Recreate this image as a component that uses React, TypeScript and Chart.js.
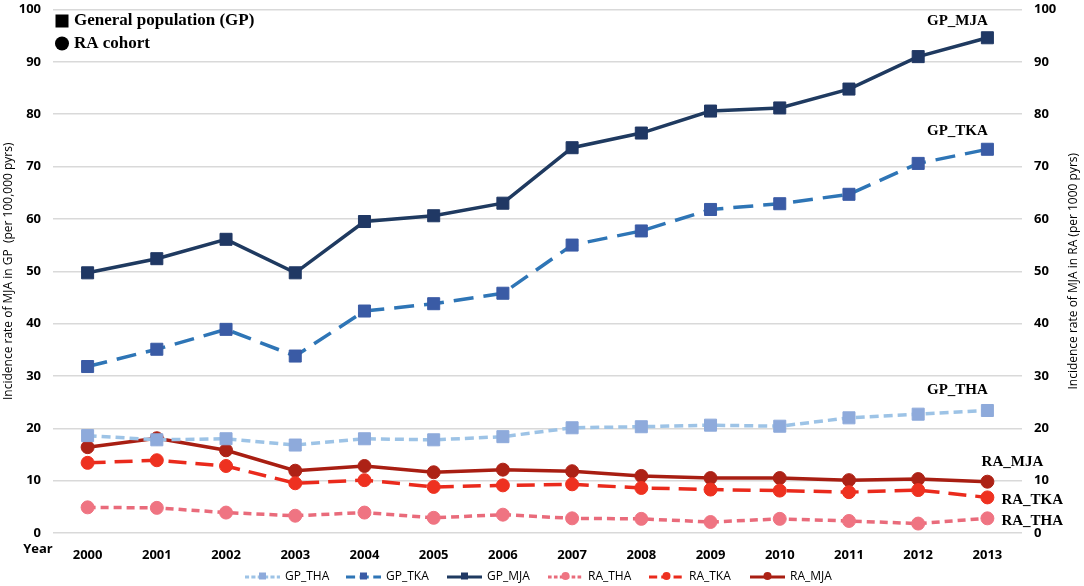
import React, { useEffect, useRef } from 'react';
import { Chart, registerables } from 'chart.js';

Chart.register(...registerables);

const years = ['2000', '2001', '2002', '2003', '2004', '2005', '2006', '2007', '2008', '2009', '2010', '2011', '2012', '2013'];

// general population, per 100,000 pyrs
const gpTHA = [18.6, 17.8, 18.0, 16.8, 18.0, 17.8, 18.4, 20.1, 20.3, 20.6, 20.4, 22.0, 22.7, 23.4];
const gpTKA = [31.8, 35.1, 38.9, 33.8, 42.4, 43.8, 45.8, 55.0, 57.7, 61.8, 62.9, 64.7, 70.6, 73.3];
const gpMJA = [49.7, 52.4, 56.1, 49.7, 59.5, 60.6, 63.0, 73.6, 76.4, 80.6, 81.2, 84.8, 91.0, 94.6];

// RA cohort, per 1000 pyrs
const raTHA = [4.9, 4.8, 3.9, 3.3, 3.9, 2.9, 3.5, 2.8, 2.7, 2.1, 2.7, 2.3, 1.8, 2.8];
const raTKA = [13.4, 13.9, 12.8, 9.5, 10.1, 8.8, 9.1, 9.3, 8.6, 8.3, 8.1, 7.8, 8.2, 6.8];
const raMJA = [16.4, 18.1, 15.8, 11.9, 12.8, 11.6, 12.1, 11.8, 10.9, 10.5, 10.5, 10.1, 10.3, 9.8];

const yTicks = [0, 10, 20, 30, 40, 50, 60, 70, 80, 90, 100];

const series = [
  { label: 'GP_THA', data: gpTHA, line: '#9dc3e6', fill: '#8eaadb', dash: [9, 5], shape: 'rect', axis: 'y' },
  { label: 'GP_TKA', data: gpTKA, line: '#2e75b6', fill: '#3a5ba5', dash: [20, 10], shape: 'rect', axis: 'y' },
  { label: 'GP_MJA', data: gpMJA, line: '#1f3a60', fill: '#203864', dash: [], shape: 'rect', axis: 'y' },
  { label: 'RA_THA', data: raTHA, line: '#e96b7b', fill: '#ef7482', dash: [8, 5], shape: 'circle', axis: 'y1' },
  { label: 'RA_TKA', data: raTKA, line: '#ea2a1c', fill: '#ee3120', dash: [18, 9], shape: 'circle', axis: 'y1' },
  { label: 'RA_MJA', data: raMJA, line: '#a81e12', fill: '#ad2216', dash: [], shape: 'circle', axis: 'y1' },
];

// where each end-of-line label sits relative to the last point
const endLabels: Record<string, { dx: number; dy: number; align: CanvasTextAlign }> = {
  GP_MJA: { dx: -30, dy: -17, align: 'center' },
  GP_TKA: { dx: -30, dy: -18, align: 'center' },
  GP_THA: { dx: -30, dy: -20, align: 'center' },
  RA_MJA: { dx: 25, dy: -20, align: 'center' },
  RA_TKA: { dx: 14, dy: 3, align: 'left' },
  RA_THA: { dx: 14, dy: 3, align: 'left' },
};

const SANS = '"Open Sans", "DejaVu Sans", sans-serif';
const SERIF = '"Liberation Serif", "DejaVu Serif", serif';

const drawMarker = (ctx: CanvasRenderingContext2D, shape: string, x: number, y: number, r: number, color: string) => {
  ctx.save();
  ctx.setLineDash([]);
  ctx.fillStyle = color;
  ctx.beginPath();
  if (shape === 'rect') ctx.rect(x - r, y - r, 2 * r, 2 * r);
  else ctx.arc(x, y, r, 0, Math.PI * 2);
  ctx.fill();
  ctx.restore();
};

const decorations = {
  id: 'decorations',
  afterDatasetsDraw(chart: any) {
    const ctx: CanvasRenderingContext2D = chart.ctx;
    const area = chart.chartArea;
    ctx.save();

    // labels at the end of each line
    ctx.font = `bold 15px ${SERIF}`;
    ctx.fillStyle = '#000';
    ctx.textBaseline = 'middle';
    chart.data.datasets.forEach((ds: any, i: number) => {
      const pos = endLabels[ds.label];
      const pts = chart.getDatasetMeta(i).data;
      const last = pts[pts.length - 1];
      if (!pos || !last) return;
      ctx.textAlign = pos.align;
      ctx.fillText(ds.label, last.x + pos.dx, last.y + pos.dy);
    });

    // top-left key for marker shapes
    ctx.font = `bold 17px ${SERIF}`;
    ctx.textAlign = 'left';
    drawMarker(ctx, 'rect', area.left + 9, 21, 6.5, '#000');
    ctx.fillText('General population (GP)', area.left + 21, 21);
    drawMarker(ctx, 'circle', area.left + 9, 43.5, 7, '#000');
    ctx.fillText('RA cohort', area.left + 21, 43.5);

    // "Year" beside the x ticks
    ctx.font = `bold 13px ${SANS}`;
    ctx.textAlign = 'center';
    ctx.fillText('Year', 38, area.bottom + 16);

    // axis titles, both read bottom to top
    ctx.font = `12px ${SANS}`;
    const midY = (area.top + area.bottom) / 2;
    ctx.translate(9, midY);
    ctx.rotate(-Math.PI / 2);
    ctx.fillText('Incidence rate of MJA in GP  (per 100,000 pyrs)', 0, 0);
    ctx.rotate(Math.PI / 2);
    ctx.translate(-9, -midY);
    ctx.translate(1074, midY);
    ctx.rotate(-Math.PI / 2);
    ctx.fillText('Incidence rate of MJA in RA (per 1000 pyrs)', 0, 0);
    ctx.restore();

    // bottom legend
    ctx.save();
    const ly = chart.height - 9;
    const itemW = 101;
    const x0 = 245;
    ctx.font = `12px ${SANS}`;
    ctx.textBaseline = 'middle';
    ctx.textAlign = 'left';
    series.forEach((s, i) => {
      const x = x0 + i * itemW;
      ctx.strokeStyle = s.line;
      ctx.lineWidth = 3;
      ctx.setLineDash(s.dash.length ? [s.dash[0] / 2.2, s.dash[1] / 2.2] : []);
      ctx.beginPath();
      ctx.moveTo(x, ly);
      ctx.lineTo(x + 35, ly);
      ctx.stroke();
      drawMarker(ctx, s.shape, x + 17.5, ly - 1, s.shape === 'rect' ? 3.5 : 4, s.fill);
      ctx.fillStyle = '#000';
      ctx.fillText(s.label, x + 40, ly);
    });
    ctx.restore();
  },
};

const App: React.FC = () => {
  const canvasRef = useRef<HTMLCanvasElement | null>(null);
  const chartRef = useRef<Chart | null>(null);

  useEffect(() => {
    document.body.style.margin = '0';
    const ctx = canvasRef.current?.getContext('2d');
    if (!ctx) return;

    const yAxis = (position: 'left' | 'right', width: number, showGrid: boolean) => ({
      type: 'linear' as const,
      position,
      min: 0,
      max: 100,
      afterBuildTicks: (scale: any) => {
        scale.ticks = yTicks.map((v) => ({ value: v }));
      },
      afterFit: (scale: any) => {
        scale.width = width;
        scale.paddingTop = 0;
        scale.paddingBottom = 0;
      },
      grid: { display: showGrid, color: '#d9d9d9', lineWidth: 1.5, drawTicks: false },
      border: { display: false },
      ticks: {
        padding: 12,
        color: '#000',
        font: { family: SANS, size: 13, weight: 'bold' as const },
      },
    });

    chartRef.current = new Chart(ctx, {
      type: 'line',
      data: {
        labels: years,
        datasets: series.map((s) => ({
          label: s.label,
          data: s.data,
          yAxisID: s.axis,
          borderColor: s.line,
          borderWidth: 3.5,
          borderDash: s.dash,
          backgroundColor: s.fill,
          pointBackgroundColor: s.fill,
          pointBorderColor: s.fill,
          pointBorderWidth: 1,
          pointStyle: s.shape as any,
          pointRadius: s.shape === 'rect' ? 8.5 : 6.5,
          tension: 0,
        })),
      },
      options: {
        animation: false,
        responsive: true,
        maintainAspectRatio: false,
        layout: { padding: { top: 6, bottom: 25, left: 0, right: 0 } },
        plugins: {
          legend: { display: false },
          tooltip: { enabled: false },
        },
        scales: {
          x: {
            type: 'category',
            offset: true,
            afterFit: (scale: any) => {
              scale.height = 28;
            },
            grid: { display: false },
            border: { display: false },
            ticks: {
              padding: 6,
              color: '#000',
              maxRotation: 0,
              font: { family: SANS, size: 13, weight: 'bold' },
            },
          },
          y: yAxis('left', 53, true),
          y1: yAxis('right', 62, false),
        },
      },
      plugins: [decorations],
    });

    return () => {
      if (chartRef.current) {
        chartRef.current.destroy();
        chartRef.current = null;
      }
    };
  }, []);

  return (
    <div style={{ position: 'relative', width: 1084, height: 586, overflow: 'hidden', background: '#fff' }}>
      <canvas ref={canvasRef} />
    </div>
  );
};

export default App;
